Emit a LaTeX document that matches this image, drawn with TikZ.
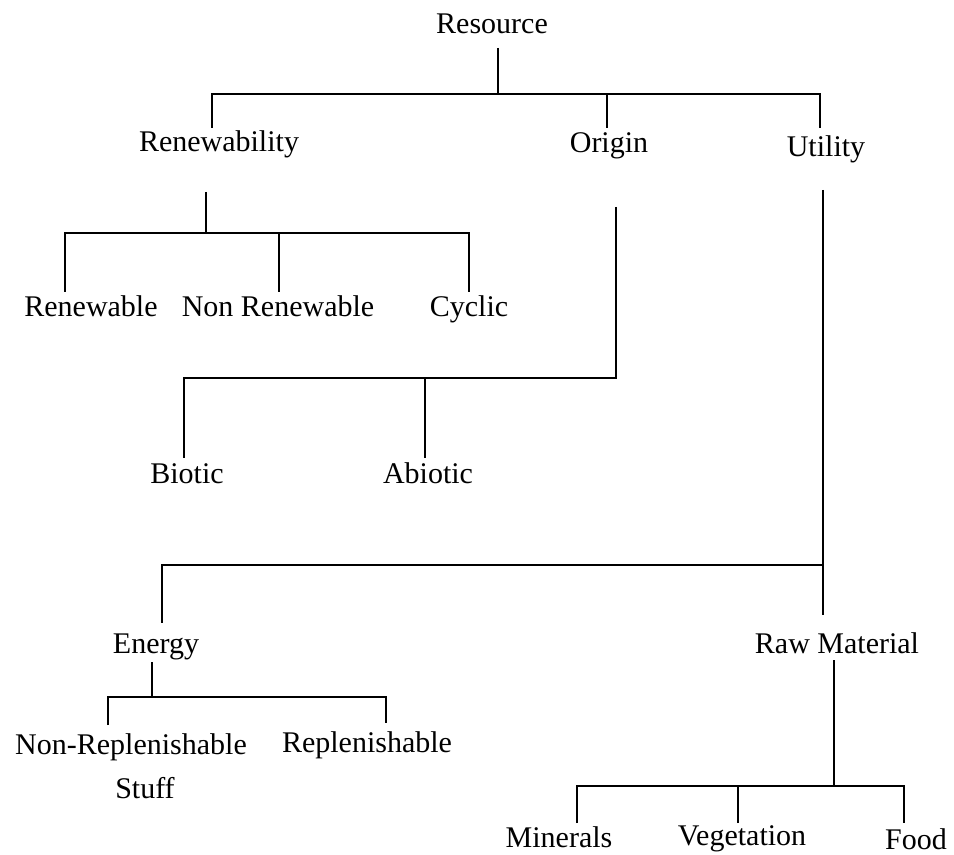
\documentclass[tikz,border=0pt]{standalone}
\usepackage{fontspec}
\setmainfont{Liberation Serif}
\begin{document}
\begin{tikzpicture}[x=0.75pt,y=-0.75pt,line width=2pt,
		term/.style={anchor=base,inner sep=0pt,font=\fontsize{22.5}{27}\selectfont}]
		\useasboundingbox (0,0) rectangle (954,855);
		% terms
		\node (res) [term] at (492,34) {Resource};
		\node (renew) [term] at (219,152) {Renewability};
		\node (origin) [term] at (609,153) {Origin};
		\node (util) [term] at (826,157) {Utility};
		\node (renewable) [term] at (91,317) {Renewable};
		\node (nonrenew) [term] at (278,317) {Non Renewable};
		\node (cyclic) [term] at (469,317) {Cyclic};
		\node (biotic) [term] at (187,484) {Biotic};
		\node (abiotic) [term] at (428,484) {Abiotic};
		\node (energy) [term] at (156,653) {Energy};
		\node (rawmat) [term] at (837,653) {Raw Material};
		\node (nonrepl) [term] at (131,754) {Non-Replenishable};
		\node (stuff) [term] at (145,798) {Stuff};
		\node (repl) [term] at (367,752) {Replenishable};
		\node (minerals) [term] at (559,847) {Minerals};
		\node (veg) [term] at (742,845) {Vegetation};
		\node (food) [term] at (916,849) {Food};
		% line ends
		\coordinate (res-out) at (498,48);
		\coordinate (res-fork) at (498,94);
		\coordinate (renew-in) at (212,128);
		\coordinate (origin-in) at (607,128);
		\coordinate (util-in) at (820,128);
		\coordinate (renew-out) at (206,192);
		\coordinate (renew-fork) at (206,233);
		\coordinate (renewable-in) at (65,292);
		\coordinate (nonrenew-in) at (279,292);
		\coordinate (cyclic-in) at (469,292);
		\coordinate (origin-out) at (616,207);
		\coordinate (origin-fork) at (616,378);
		\coordinate (biotic-in) at (184,458);
		\coordinate (abiotic-in) at (425,458);
		\coordinate (util-out) at (823,190);
		\coordinate (util-fork) at (823,565);
		\coordinate (energy-in) at (162,623);
		\coordinate (rawmat-in) at (823,615);
		\coordinate (energy-out) at (152,662);
		\coordinate (energy-fork) at (152,697);
		\coordinate (nonrepl-in) at (108,725);
		\coordinate (repl-in) at (386,723);
		\coordinate (rawmat-out) at (834,660);
		\coordinate (rawmat-fork) at (834,786);
		\coordinate (minerals-in) at (577,823);
		\coordinate (veg-in) at (738,823);
		\coordinate (food-in) at (904,823);
		% tree
		\draw (res-out) -- (res-fork);
		\draw (renew-in) |- (res-fork) -| (util-in);
		\draw (origin-in) -- (origin-in |- res-fork);
		\draw (renew-out) -- (renew-fork);
		\draw (renewable-in) |- (renew-fork) -| (cyclic-in);
		\draw (nonrenew-in) -- (nonrenew-in |- renew-fork);
		\draw (origin-out) -- (origin-fork) -| (biotic-in);
		\draw (abiotic-in) -- (abiotic-in |- origin-fork);
		\draw (util-out) -- (rawmat-in);
		\draw (util-fork) -| (energy-in);
		\draw (energy-out) -- (energy-fork);
		\draw (nonrepl-in) |- (energy-fork) -| (repl-in);
		\draw (rawmat-out) -- (rawmat-fork);
		\draw (minerals-in) |- (rawmat-fork) -| (food-in);
		\draw (veg-in) -- (veg-in |- rawmat-fork);
	\end{tikzpicture}
\end{document}
